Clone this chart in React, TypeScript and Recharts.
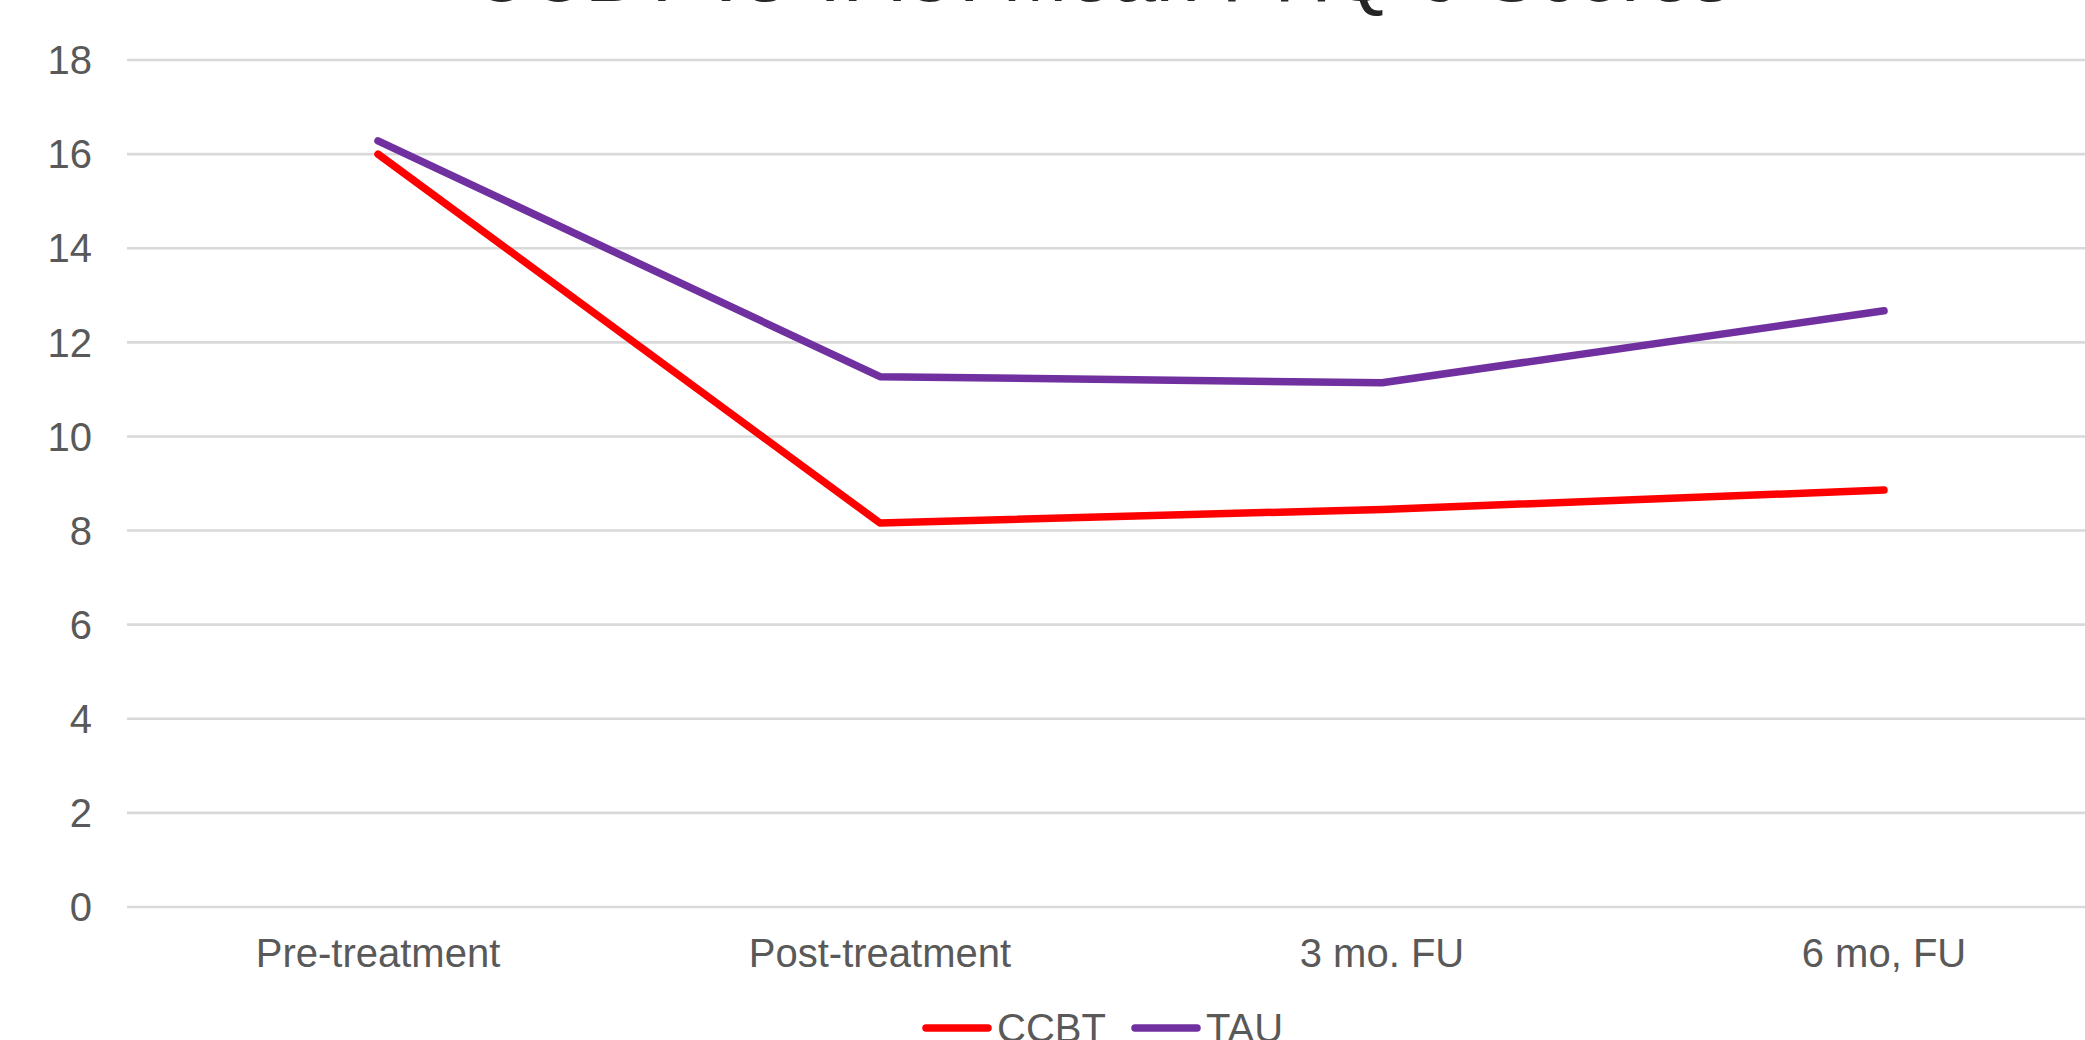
import { LineChart, Line, XAxis, YAxis, CartesianGrid } from "recharts";

const categories = ["Pre-treatment", "Post-treatment", "3 mo. FU", "6 mo, FU"];
const ccbtScores = [16.0, 8.16, 8.45, 8.86];
const tauScores = [16.28, 11.27, 11.14, 12.67];
const yTicks = [0, 2, 4, 6, 8, 10, 12, 14, 16, 18];

const seriesList = [
    { key: "CCBT", color: "#ff0000" },
    { key: "TAU", color: "#7030a0" },
];

const FONT = "'Liberation Sans', Arial, sans-serif";
const TEXT_GREY = "#595959";

export default function App() {
    const chartData = categories.map((label, i) => ({
        label,
        CCBT: ccbtScores[i],
        TAU: tauScores[i],
    }));

    return (
        <div
            style={{
                position: "fixed",
                left: 0,
                top: 0,
                width: 2085,
                height: 1040,
                overflow: "hidden",
                background: "#fff",
                fontFamily: FONT,
            }}
        >
            {/* title, mostly cut off by the top edge like in the original */}
            <div
                style={{
                    position: "absolute",
                    left: 0,
                    top: -66,
                    width: 2202,
                    textAlign: "center",
                    fontSize: 79,
                    lineHeight: "79px",
                    color: "#262626",
                    whiteSpace: "nowrap",
                }}
            >
                CCBT vs TAU: Mean PHQ-9 Scores
            </div>

            <div style={{ position: "absolute", left: 0, top: 0 }}>
                <LineChart
                    width={2200}
                    height={1040}
                    data={chartData}
                    margin={{ top: 60, right: 65, left: 0, bottom: 73 }}
                >
                    <CartesianGrid horizontal vertical={false} stroke="#d9d9d9" strokeWidth={2.6} />
                    <XAxis
                        dataKey="label"
                        height={60}
                        padding={{ left: 251, right: 251 }}
                        axisLine={false}
                        tickLine={false}
                        tickMargin={26}
                        interval={0}
                        tick={{ fill: TEXT_GREY, fontSize: 40, fontFamily: FONT }}
                    />
                    <YAxis
                        width={127}
                        domain={[0, 18]}
                        ticks={yTicks}
                        axisLine={false}
                        tickLine={false}
                        tickMargin={29}
                        tick={{ fill: TEXT_GREY, fontSize: 40, fontFamily: FONT }}
                    />
                    {seriesList.map((s) => (
                        <Line
                            key={s.key}
                            type="linear"
                            dataKey={s.key}
                            stroke={s.color}
                            strokeWidth={7.5}
                            strokeLinecap="round"
                            strokeLinejoin="round"
                            dot={false}
                            activeDot={false}
                            isAnimationActive={false}
                        />
                    ))}
                </LineChart>
            </div>

            {/* legend along the bottom edge */}
            <svg
                width={2085}
                height={60}
                style={{ position: "absolute", left: 0, top: 1000 }}
            >
                {seriesList.map((s, i) => {
                    const x0 = 922 + i * 209;
                    return (
                        <g key={s.key}>
                            <line
                                x1={x0 + 4}
                                x2={x0 + 66}
                                y1={28}
                                y2={28}
                                stroke={s.color}
                                strokeWidth={7.5}
                                strokeLinecap="round"
                            />
                            <text
                                x={x0 + 75}
                                y={41.5}
                                fill={TEXT_GREY}
                                fontSize={40}
                                fontFamily={FONT}
                            >
                                {s.key}
                            </text>
                        </g>
                    );
                })}
            </svg>
        </div>
    );
}
